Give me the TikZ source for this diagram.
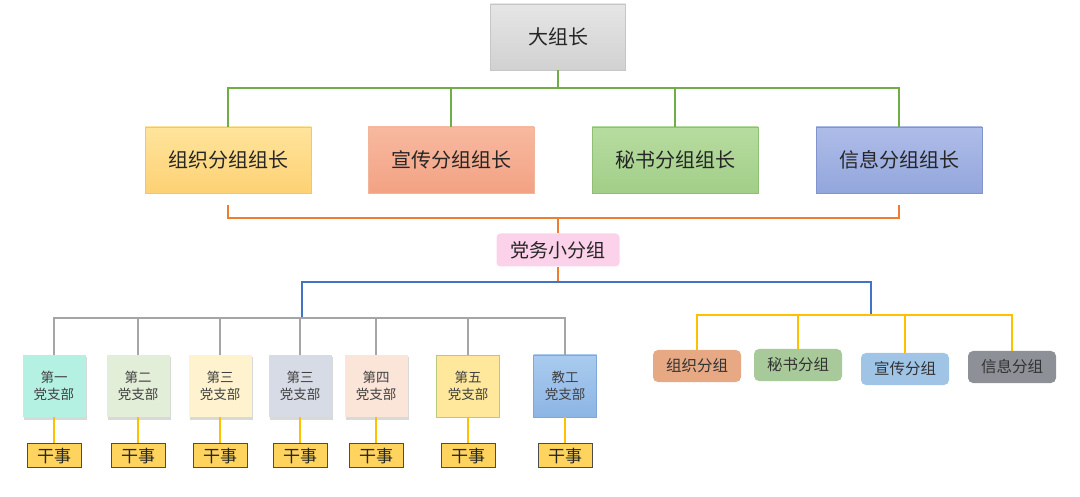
\documentclass[tikz,border=0pt]{standalone}
\usepackage{fontspec}
\setmainfont{Noto Sans CJK SC}
\usetikzlibrary{positioning,shadows}

\definecolor{inkgray}{HTML}{262626}
\definecolor{greenline}{HTML}{70AD47}
\definecolor{orangeline}{HTML}{ED7D31}
\definecolor{blueline}{HTML}{4472C4}
\definecolor{grayline}{HTML}{A5A5A5}
\definecolor{yellowline}{HTML}{FFC000}
% leader fills
\definecolor{orgtop}{HTML}{FFE49C}
\definecolor{orgbot}{HTML}{FDD174}
\definecolor{orgedge}{HTML}{F4C95A}
\definecolor{pubtop}{HTML}{F7B9A0}
\definecolor{pubbot}{HTML}{F3A283}
\definecolor{pubedge}{HTML}{F0B59A}
\definecolor{sectop}{HTML}{B7DCA0}
\definecolor{secbot}{HTML}{A2CE88}
\definecolor{secedge}{HTML}{8FC072}
\definecolor{infotop}{HTML}{AEBCE8}
\definecolor{infobot}{HTML}{93A6DC}
\definecolor{infoedge}{HTML}{8194D0}
% branch and team fills
\definecolor{mint}{HTML}{B5F1E3}
\definecolor{sage}{HTML}{E2EED8}
\definecolor{cream}{HTML}{FFF2CE}
\definecolor{slate}{HTML}{D7DBE5}
\definecolor{peach}{HTML}{FBE4D8}
\definecolor{butter}{HTML}{FFE89C}
\definecolor{butteredge}{HTML}{B9C97E}
\definecolor{skytop}{HTML}{A9CBEE}
\definecolor{skybot}{HTML}{8DB5E4}
\definecolor{skyedge}{HTML}{7FA7D9}
\definecolor{clerkfill}{HTML}{FFD45E}
\definecolor{teamorg}{HTML}{E6A983}
\definecolor{teamsec}{HTML}{A8C99A}
\definecolor{teampub}{HTML}{9FC4E6}
\definecolor{teaminfo}{HTML}{8D9096}

\begin{document}
\begin{tikzpicture}[
		x=1pt, y=-1pt,
		every node/.style={text=inkgray, inner sep=0pt},
		chiefbox/.style={draw=gray!45, top color=gray!20, bottom color=gray!36, minimum width=135pt, minimum height=66pt, font=\fontsize{20}{24}\selectfont},
		leadbox/.style={draw, minimum width=166pt, minimum height=66pt, font=\fontsize{20}{24}\selectfont},
		branchbox/.style={minimum width=63pt, minimum height=62pt, align=center, font=\fontsize{13.5}{17}\selectfont, text=black!75},
		shadowed/.style={drop shadow={opacity=0.3, shadow xshift=1.5pt, shadow yshift=-2.5pt}},
		clerkbox/.style={draw=black!70, line width=0.8pt, fill=clerkfill, minimum width=54pt, minimum height=24pt, font=\fontsize{17}{20}\selectfont},
		teambox/.style={rounded corners=5pt, minimum width=88pt, minimum height=32pt, font=\fontsize{15.5}{18}\selectfont, text=black!80},
		link/.style={line width=2pt}
		]
		\useasboundingbox (0,0) rectangle (1080,497);
		
		% Leaders
		\node[chiefbox] (chief) at (558,37) {大组长};
		\node[leadbox, draw=orgedge, top color=orgtop, bottom color=orgbot] (orglead) at (228,160) {组织分组组长};
		\node[leadbox, draw=pubedge, top color=pubtop, bottom color=pubbot] (publead) at (451,160) {宣传分组组长};
		\node[leadbox, draw=secedge, top color=sectop, bottom color=secbot] (seclead) at (675,160) {秘书分组组长};
		\node[leadbox, draw=infoedge, top color=infotop, bottom color=infobot] (infolead) at (899,160) {信息分组组长};
		\node[fill=magenta!18, rounded corners=4pt, minimum width=123pt, minimum height=33pt, font=\fontsize{19}{22}\selectfont] (party) at (558,250) {党务小分组};
		
		% Branches
		\node[branchbox, shadowed, fill=mint] (b1) at (54,386) {第一\\党支部};
		\node[branchbox, shadowed, fill=sage] (b2) at (138,386) {第二\\党支部};
		\node[branchbox, shadowed, fill=cream] (b3) at (220,386) {第三\\党支部};
		\node[branchbox, shadowed, fill=slate] (b4) at (300,386) {第三\\党支部};
		\node[branchbox, shadowed, fill=peach] (b5) at (376,386) {第四\\党支部};
		\node[branchbox, draw=butteredge, fill=butter] (b6) at (468,386) {第五\\党支部};
		\node[branchbox, draw=skyedge, top color=skytop, bottom color=skybot] (b7) at (565,386) {教工\\党支部};
		\node[clerkbox, below=26pt of b1] (c1) {干事};
		\node[clerkbox, below=26pt of b2] (c2) {干事};
		\node[clerkbox, below=26pt of b3] (c3) {干事};
		\node[clerkbox, below=26pt of b4] (c4) {干事};
		\node[clerkbox, below=26pt of b5] (c5) {干事};
		\node[clerkbox, below=26pt of b6] (c6) {干事};
		\node[clerkbox, below=26pt of b7] (c7) {干事};
		
		% Teams
		\node[teambox, fill=teamorg] (t1) at (697,366) {组织分组};
		\node[teambox, fill=teamsec] (t2) at (798,365) {秘书分组};
		\node[teambox, fill=teampub] (t3) at (905,369) {宣传分组};
		\node[teambox, fill=teaminfo] (t4) at (1012,367) {信息分组};
		
		% Lines
		\coordinate (greenbar) at (558,88);
		\coordinate (orangebar) at (558,218);
		\coordinate (bluebar) at (558,282);
		\coordinate (graybar) at (302,318);
		\coordinate (yellowbar) at (871,315);
		\draw[link, greenline] (chief) -- (greenbar);
		\draw[link, greenline] (orglead.north) |- (greenbar);
		\draw[link, greenline] (publead.north) |- (greenbar);
		\draw[link, greenline] (seclead.north) |- (greenbar);
		\draw[link, greenline] (infolead.north) |- (greenbar);
		\draw[link, orangeline] ([yshift=-12pt]orglead.south) -- ++(0,13) -| ([yshift=-12pt]infolead.south);
		\draw[link, orangeline] (orangebar) -- (party);
		\draw[link, orangeline] (party) -- (bluebar);
		\draw[link, blueline] (graybar) |- (bluebar) -| (yellowbar);
		\draw[link, grayline] (b1.north) |- (graybar);
		\draw[link, grayline] (b2.north) |- (graybar);
		\draw[link, grayline] (b3.north) |- (graybar);
		\draw[link, grayline] (b4.north) |- (graybar);
		\draw[link, grayline] (b5.north) |- (graybar);
		\draw[link, grayline] (b6.north) |- (graybar);
		\draw[link, grayline] (b7.north) |- (graybar);
		\draw[link, yellowline] (b1) -- (c1);
		\draw[link, yellowline] (b2) -- (c2);
		\draw[link, yellowline] (b3) -- (c3);
		\draw[link, yellowline] (b4) -- (c4);
		\draw[link, yellowline] (b5) -- (c5);
		\draw[link, yellowline] (b6) -- (c6);
		\draw[link, yellowline] (b7) -- (c7);
		\draw[link, yellowline] (t1.north) |- (yellowbar);
		\draw[link, yellowline] (t2.north) |- (yellowbar);
		\draw[link, yellowline] (t3.north) |- (yellowbar);
		\draw[link, yellowline] (t4.north) |- (yellowbar);
	\end{tikzpicture}
\end{document}
